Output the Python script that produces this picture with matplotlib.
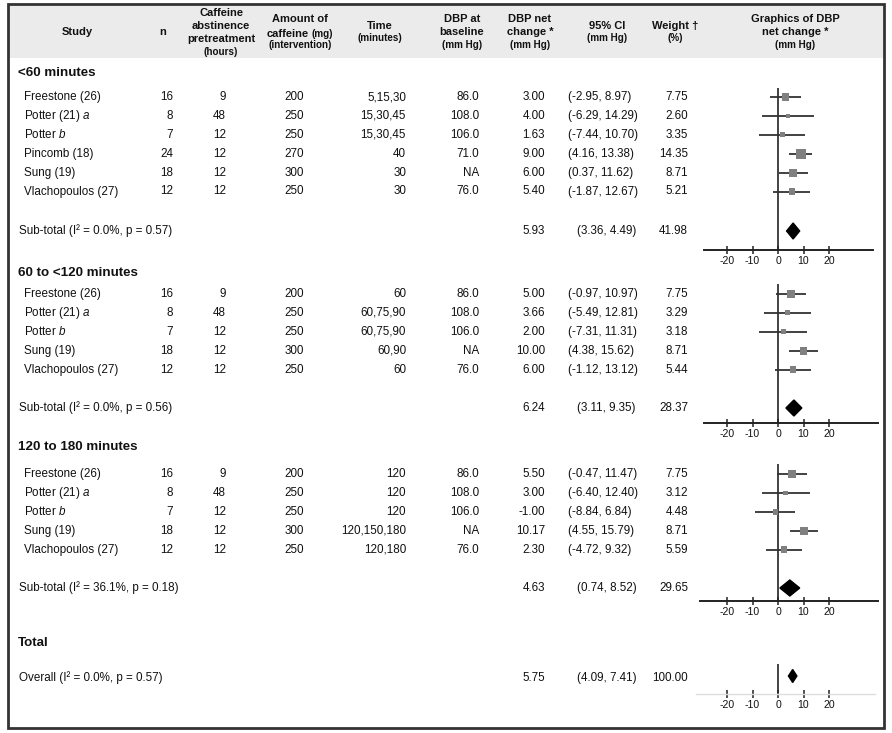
import numpy as np
import matplotlib.pyplot as plt
from matplotlib.patches import Rectangle

# =====================================================
# 1. Data
# =====================================================
group_titles = ["<60 minutes", "60 to <120 minutes", "120 to 180 minutes"]

# ---- <60 minutes
g1_study = ["Freestone (26)", "Potter (21) $\\mathit{a}$", "Potter $\\mathit{b}$",
            "Pincomb (18)", "Sung (19)", "Vlachopoulos (27)"]
g1_n = [16, 8, 7, 24, 18, 12]
g1_abst = [9, 48, 12, 12, 12, 12]
g1_amount = [200, 250, 250, 270, 300, 250]
g1_time = ["5,15,30", "15,30,45", "15,30,45", "40", "30", "30"]
g1_base = ["86.0", "108.0", "106.0", "71.0", "NA", "76.0"]
g1_net = [3.00, 4.00, 1.63, 9.00, 6.00, 5.40]
g1_lo = [-2.95, -6.29, -7.44, 4.16, 0.37, -1.87]
g1_hi = [8.97, 14.29, 10.70, 13.38, 11.62, 12.67]
g1_w = [7.75, 2.60, 3.35, 14.35, 8.71, 5.21]

# ---- 60 to <120 minutes
g2_study = ["Freestone (26)", "Potter (21) $\\mathit{a}$", "Potter $\\mathit{b}$",
            "Sung (19)", "Vlachopoulos (27)"]
g2_n = [16, 8, 7, 18, 12]
g2_abst = [9, 48, 12, 12, 12]
g2_amount = [200, 250, 250, 300, 250]
g2_time = ["60", "60,75,90", "60,75,90", "60,90", "60"]
g2_base = ["86.0", "108.0", "106.0", "NA", "76.0"]
g2_net = [5.00, 3.66, 2.00, 10.00, 6.00]
g2_lo = [-0.97, -5.49, -7.31, 4.38, -1.12]
g2_hi = [10.97, 12.81, 11.31, 15.62, 13.12]
g2_w = [7.75, 3.29, 3.18, 8.71, 5.44]

# ---- 120 to 180 minutes
g3_study = ["Freestone (26)", "Potter (21) $\\mathit{a}$", "Potter $\\mathit{b}$",
            "Sung (19)", "Vlachopoulos (27)"]
g3_n = [16, 8, 7, 18, 12]
g3_abst = [9, 48, 12, 12, 12]
g3_amount = [200, 250, 250, 300, 250]
g3_time = ["120", "120", "120", "120,150,180", "120,180"]
g3_base = ["86.0", "108.0", "106.0", "NA", "76.0"]
g3_net = [5.50, 3.00, -1.00, 10.17, 2.30]
g3_lo = [-0.47, -6.40, -8.84, 4.55, -4.72]
g3_hi = [11.47, 12.40, 6.84, 15.79, 9.32]
g3_w = [7.75, 3.12, 4.48, 8.71, 5.59]

# ---- sub-totals
sub_label = ["Sub-total (I\u00b2 = 0.0%, p = 0.57)",
             "Sub-total (I\u00b2 = 0.0%, p = 0.56)",
             "Sub-total (I\u00b2 = 36.1%, p = 0.18)"]
sub_net = [5.93, 6.24, 4.63]
sub_ci_text = ["(3.36, 4.49)", "(3.11, 9.35)", "(0.74, 8.52)"]
sub_lo = [3.36, 3.11, 0.74]
sub_hi = [8.49, 9.35, 8.52]
sub_w = [41.98, 28.37, 29.65]

# ---- overall
overall_label = "Overall (I\u00b2 = 0.0%, p = 0.57)"
overall_net = 5.75
overall_lo = 4.09
overall_hi = 7.41
overall_w = 100.00

ticks = [-20, -10, 0, 10, 20]

groups = [
    (g1_study, g1_n, g1_abst, g1_amount, g1_time, g1_base, g1_net, g1_lo, g1_hi, g1_w),
    (g2_study, g2_n, g2_abst, g2_amount, g2_time, g2_base, g2_net, g2_lo, g2_hi, g2_w),
    (g3_study, g3_n, g3_abst, g3_amount, g3_time, g3_base, g3_net, g3_lo, g3_hi, g3_w),
]

# =====================================================
# 2. Layout (pixel positions of the table)
# =====================================================
W, H = 892, 733
row_h = 18.9
title_y = [73, 273, 447]
first_y = [97, 294, 474]
sub_y = [231, 408, 588]
axis_y = [250, 423, 601]
line_top = [88, 284, 464]
spine_px = [(704, 873), (704, 878), (700, 878)]
total_y, overall_y, overall_axis_y = 643, 678, 694

px0, px_per10 = 778, 25.5      # x pixel of 0 and pixels per 10 mm Hg
fx_left, fx_right = 696, 878   # forest axes horizontal extent

col_study, col_n, col_abst, col_amt, col_time = 24, 173, 226, 304, 406
col_base, col_net, col_ci, col_ci_sub, col_w = 479, 545, 568, 577, 688

plt.rcParams['font.family'] = ['Liberation Sans', 'DejaVu Sans']
plt.rcParams['mathtext.fontset'] = 'custom'
plt.rcParams['mathtext.rm'] = 'Liberation Sans'
plt.rcParams['mathtext.it'] = 'Liberation Sans:italic'

txt = '#111111'
fs_body = 8.4
fs_title = 9.6
fs_head = 8.0
fs_small = 7.1


def px2data(px):
    return (px - px0) / px_per10 * 10


fig = plt.figure(figsize=(W / 100, H / 100), dpi=100)
ax = fig.add_axes([0, 0, 1, 1])
ax.set_xlim(0, W)
ax.set_ylim(H, 0)
ax.axis('off')

# header band and frame
ax.add_patch(Rectangle((8, 4), 876, 54, facecolor='#ebebeb', edgecolor='none'))
ax.add_patch(Rectangle((8, 4), 876, 724, facecolor='none', edgecolor='#333333', lw=2))

# =====================================================
# 3. Header
# =====================================================
def head(x, y, s, size=fs_head):
    ax.text(x, y, s, ha='center', va='center', fontsize=size,
            fontweight='bold', color=txt)


head(77, 32, "Study")
head(163, 32, "n")
head(221, 13, "Caffeine")
head(221, 26, "abstinence")
head(221, 39, "pretreatment")
head(221, 52, "(hours)", fs_small)
head(300, 19, "Amount of")
ax.text(309, 37, "caffeine", ha='right', va='baseline', fontsize=fs_head,
        fontweight='bold', color=txt)
ax.text(312, 37, "(mg)", ha='left', va='baseline', fontsize=fs_small,
        fontweight='bold', color=txt)
head(300, 45, "(intervention)", fs_small)
head(380, 26, "Time")
head(380, 38, "(minutes)", fs_small)
head(462, 19, "DBP at")
head(462, 32, "baseline")
head(462, 45, "(mm Hg)", fs_small)
head(530, 19, "DBP net")
head(530, 32, "change *")
head(530, 45, "(mm Hg)", fs_small)
head(607, 26, "95% CI")
head(607, 38, "(mm Hg)", fs_small)
head(675, 26, "Weight \u2020")
head(675, 38, "(%)", fs_small)
head(795, 19, "Graphics of DBP")
head(795, 32, "net change *")
head(795, 45, "(mm Hg)", fs_small)


def cell(x, y, s, ha='right'):
    ax.text(x, y, s, ha=ha, va='center', fontsize=fs_body, color=txt)


def forest_axes(top_px, bottom_px):
    fa = fig.add_axes([fx_left / W, 1 - bottom_px / H,
                       (fx_right - fx_left) / W, (bottom_px - top_px) / H])
    fa.set_xlim(px2data(fx_left), px2data(fx_right))
    fa.set_ylim(bottom_px, top_px)
    fa.patch.set_alpha(0)
    for s in ['top', 'left', 'right']:
        fa.spines[s].set_visible(False)
    fa.set_yticks([])
    fa.set_xticks(ticks)
    fa.set_xticklabels([str(t) for t in ticks])
    fa.tick_params(axis='x', direction='inout', length=6, width=1.1,
                   color='#222222', labelsize=7.6, pad=1.5, labelcolor=txt)
    return fa


def diamond(fa, y, lo, mid, hi, half):
    fa.fill([lo, mid, hi, mid], [y, y - half, y, y + half],
            color='black', zorder=4)


# =====================================================
# 4. Groups
# =====================================================
for g, (study, n, abst, amt, tm, base, net, lo, hi, w) in enumerate(groups):
    ax.text(18, title_y[g], group_titles[g], ha='left', va='center',
            fontsize=fs_title, fontweight='bold', color=txt)
    ys = first_y[g] + row_h * np.arange(len(study))
    for i, y in enumerate(ys):
        cell(col_study, y, study[i], ha='left')
        cell(col_n, y, str(n[i]))
        cell(col_abst, y, str(abst[i]))
        cell(col_amt, y, str(amt[i]))
        cell(col_time, y, tm[i])
        cell(col_base, y, base[i])
        cell(col_net, y, f"{net[i]:.2f}")
        cell(col_ci, y, f"({lo[i]:.2f}, {hi[i]:.2f})", ha='left')
        cell(col_w, y, f"{w[i]:.2f}")

    sy = sub_y[g]
    cell(19, sy, sub_label[g], ha='left')
    cell(col_net, sy, f"{sub_net[g]:.2f}")
    cell(col_ci_sub, sy, sub_ci_text[g], ha='left')
    cell(col_w, sy, f"{sub_w[g]:.2f}")

    # forest panel
    fa = forest_axes(line_top[g] - 2, axis_y[g])
    fa.spines['bottom'].set_bounds(px2data(spine_px[g][0]), px2data(spine_px[g][1]))
    fa.spines['bottom'].set_color('#222222')
    fa.spines['bottom'].set_linewidth(1.4)
    fa.vlines(0, line_top[g], axis_y[g], color='#222222', lw=1.2)
    fa.hlines(ys, lo, hi, color='#333333', lw=1.3, zorder=2)
    fa.scatter(net, ys, s=np.array(w) * 3.8, marker='s', color='#808080',
               linewidths=0, zorder=3)
    diamond(fa, sy, sub_lo[g], sub_net[g], sub_hi[g], 8)

# =====================================================
# 5. Total
# =====================================================
ax.text(18, total_y, "Total", ha='left', va='center', fontsize=fs_title,
        fontweight='bold', color=txt)
cell(19, overall_y, overall_label, ha='left')
cell(col_net, overall_y, f"{overall_net:.2f}")
cell(col_ci_sub, overall_y, f"({overall_lo:.2f}, {overall_hi:.2f})", ha='left')
cell(col_w, overall_y, f"{overall_w:.2f}")

fa = forest_axes(662, overall_axis_y)
fa.spines['bottom'].set_bounds(px2data(696), px2data(875))
fa.spines['bottom'].set_color('#dddddd')
fa.spines['bottom'].set_linewidth(1.0)
fa.vlines(0, 664, overall_axis_y - 1, color='#222222', lw=1.2)
diamond(fa, overall_y - 2, overall_lo, overall_net, overall_hi, 6.5)

fig.savefig("out.png", dpi=100)
